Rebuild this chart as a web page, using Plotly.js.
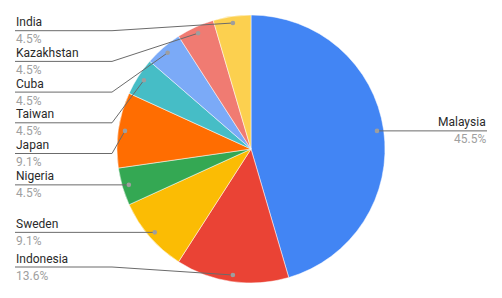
<!DOCTYPE html>
<html><head><meta charset="utf-8">
<script src="https://cdn.plot.ly/plotly-3.0.1.min.js"></script>
<style>html,body{margin:0;padding:0;background:#fff}#chart{width:502px;height:298px}</style>
</head><body><div id="chart"></div>
<script>
const countries = ["Malaysia","Indonesia","Sweden","Nigeria","Japan","Taiwan","Cuba","Kazakhstan","India"];
const counts = [10,3,2,1,2,1,1,1,1];
const colors = ["#4285F4","#EA4335","#FBBC04","#34A853","#FF6D01","#46BDC6","#7BAAF7","#F07B72","#FCD04F"];

const W = 502, H = 298;
const CX = 251, CY = 149, R = 134;
const DOT_R = 0.95 * R;
const LEFT_X = 15, ELBOW_X = 112, RIGHT_X = 487;
const GAP = 30.7, TOP = 30.7, BOTTOM = 267;

const total = counts.reduce((a,b)=>a+b,0);
const px = x => x / W, py = y => 1 - y / H;

let cum = 0;
const items = counts.map((c,i)=>{
  const mid = (cum + c/2) / total; cum += c;
  const th = 2*Math.PI*mid;
  return {i, name: countries[i], pct: (100*c/total).toFixed(1)+"%",
          dx: CX + DOT_R*Math.sin(th), dy: CY - DOT_R*Math.cos(th)};
});
function layoutSide(list){
  list.sort((a,b)=>a.dy-b.dy);
  let prev = -Infinity;
  list.forEach(it=>{ it.ly = Math.max(it.dy, prev + GAP, TOP); prev = it.ly; });
  for(let k=list.length-1;k>=0;k--){
    const lim = k===list.length-1 ? BOTTOM : list[k+1].ly - GAP;
    if(list[k].ly > lim) list[k].ly = lim;
  }
}
const left = items.filter(it=>it.dx < CX), right = items.filter(it=>it.dx >= CX);
layoutSide(left); layoutSide(right);

const shapes = [], annotations = [];
function addLabel(it, side){
  const tx = side==='left' ? LEFT_X : RIGHT_X;
  const ex = side==='left' ? ELBOW_X : RIGHT_X;
  const line = {color:"#6b6b6b", width:1};
  if (side==='left'){
    shapes.push({type:'line', xref:'paper', yref:'paper', x0:px(tx), y0:py(it.ly), x1:px(ex), y1:py(it.ly), line});
    shapes.push({type:'line', xref:'paper', yref:'paper', x0:px(ex), y0:py(it.ly), x1:px(it.dx), y1:py(it.dy), line});
  } else {
    shapes.push({type:'line', xref:'paper', yref:'paper', x0:px(it.dx), y0:py(it.dy), x1:px(tx), y1:py(it.ly), line});
  }
  const rr = 2.3;
  shapes.push({type:'circle', xref:'paper', yref:'paper', x0:px(it.dx-rr), x1:px(it.dx+rr), y0:py(it.dy+rr), y1:py(it.dy-rr),
               fillcolor:'#9E9E9E', line:{width:0}});
  const xa = side==='left' ? 'left' : 'right';
  annotations.push({xref:'paper', yref:'paper', x:px(tx), y:py(it.ly-0.5), xanchor:xa, yanchor:'bottom', showarrow:false, borderpad:0,
    text: it.name, font:{family:'Roboto, Arial, sans-serif', size:12, color:'#2a2a2a'}});
  annotations.push({xref:'paper', yref:'paper', x:px(tx), y:py(it.ly+0.5), xanchor:xa, yanchor:'top', showarrow:false, borderpad:0,
    text: it.pct, font:{family:'Roboto, Arial, sans-serif', size:12, color:'#a0a0a0'}});
}
left.forEach(it=>addLabel(it,'left'));
right.forEach(it=>addLabel(it,'right'));

const data = [{
  type:'pie', labels: countries, values: counts, sort:false, direction:'clockwise', rotation:0,
  marker:{colors: colors, line:{color:'#ffffff', width:0.5}},
  textinfo:'none', hoverinfo:'none', showlegend:false,
  domain:{x:[(CX-R)/W,(CX+R)/W], y:[(H-(CY+R))/H,(H-(CY-R))/H]}
}];
const layout = {width:W, height:H, margin:{l:0,r:0,t:0,b:0}, paper_bgcolor:'#fff', showlegend:false,
  shapes, annotations};
Plotly.newPlot('chart', data, layout, {displayModeBar:false, staticPlot:true});
</script></body></html>
